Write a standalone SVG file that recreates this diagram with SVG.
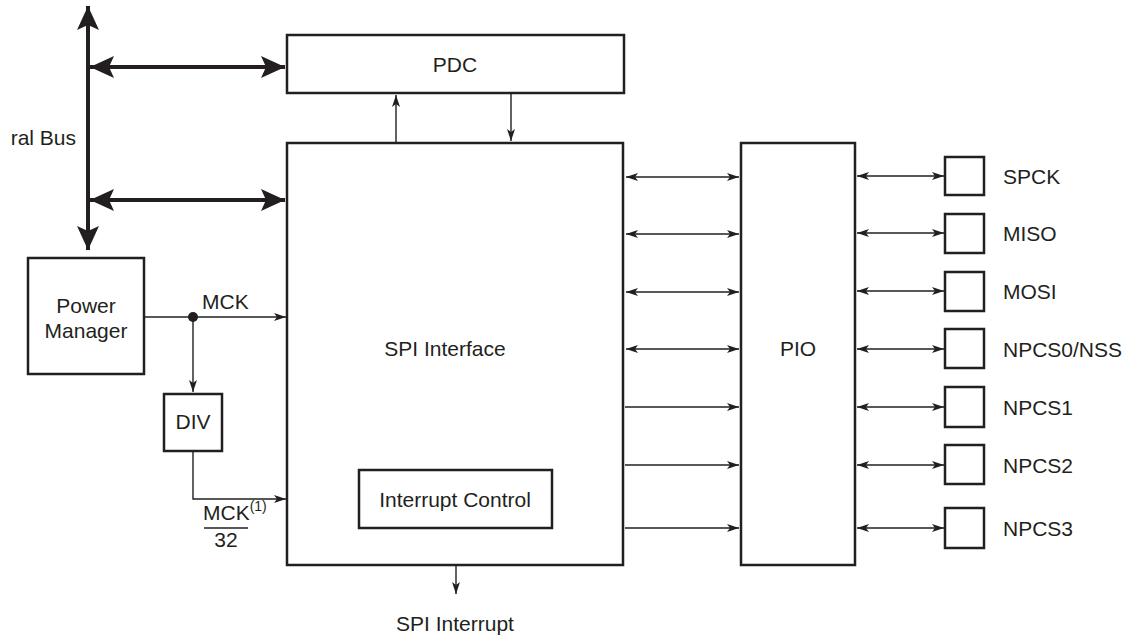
<svg xmlns="http://www.w3.org/2000/svg" width="1142" height="639" viewBox="0 0 1142 639">
<style>
.box{fill:#fff;stroke:#231f20;stroke-width:2.5}
.t{font-family:"Liberation Sans",Arial,sans-serif;font-size:21px;fill:#231f20}
.c{text-anchor:middle}
.thin{stroke:#231f20;stroke-width:1.4;fill:none}
.bus{stroke:#231f20;stroke-width:4;fill:none}
</style>
<defs>
<marker id="a" markerUnits="userSpaceOnUse" viewBox="0 0 12 8" refX="12" refY="4" markerWidth="12" markerHeight="8" orient="auto-start-reverse">
<path d="M0,0 L12,4 L0,8 L3,4 z" fill="#231f20"/>
</marker>
<marker id="b" markerUnits="userSpaceOnUse" viewBox="0 0 24 22" refX="24" refY="11" markerWidth="24" markerHeight="22" orient="auto-start-reverse">
<path d="M0,0 L24,11 L0,22 L5,11 z" fill="#231f20"/>
</marker>
</defs>

<g id="connectors">
<line class="bus" x1="88" y1="6" x2="88" y2="250" marker-start="url(#b)" marker-end="url(#b)"/>
<line class="bus" x1="90" y1="67" x2="285" y2="67" marker-start="url(#b)" marker-end="url(#b)"/>
<line class="bus" x1="90" y1="200" x2="285" y2="200" marker-start="url(#b)" marker-end="url(#b)"/>
<line class="thin" x1="396" y1="143" x2="396" y2="95" marker-end="url(#a)"/>
<line class="thin" x1="511" y1="93" x2="511" y2="141" marker-end="url(#a)"/>
<line class="thin" x1="144" y1="317" x2="286" y2="317" marker-end="url(#a)"/>
<circle cx="193" cy="317" r="5" fill="#231f20"/>
<line class="thin" x1="193" y1="317" x2="193" y2="392" marker-end="url(#a)"/>
<polyline class="thin" points="193,451 193,499 286,499" marker-end="url(#a)"/>
<line class="thin" x1="456" y1="528" x2="456" y2="594" marker-end="url(#a)"/>
<line class="thin" x1="626" y1="177" x2="739" y2="177" marker-start="url(#a)" marker-end="url(#a)"/>
<line class="thin" x1="626" y1="234" x2="739" y2="234" marker-start="url(#a)" marker-end="url(#a)"/>
<line class="thin" x1="626" y1="292" x2="739" y2="292" marker-start="url(#a)" marker-end="url(#a)"/>
<line class="thin" x1="626" y1="349" x2="739" y2="349" marker-start="url(#a)" marker-end="url(#a)"/>
<line class="thin" x1="625" y1="407" x2="739" y2="407" marker-end="url(#a)"/>
<line class="thin" x1="625" y1="465" x2="739" y2="465" marker-end="url(#a)"/>
<line class="thin" x1="625" y1="528" x2="739" y2="528" marker-end="url(#a)"/>
<line class="thin" x1="857" y1="176" x2="944" y2="176" marker-start="url(#a)" marker-end="url(#a)"/>
<line class="thin" x1="857" y1="233" x2="944" y2="233" marker-start="url(#a)" marker-end="url(#a)"/>
<line class="thin" x1="857" y1="291" x2="944" y2="291" marker-start="url(#a)" marker-end="url(#a)"/>
<line class="thin" x1="857" y1="349" x2="944" y2="349" marker-start="url(#a)" marker-end="url(#a)"/>
<line class="thin" x1="857" y1="407" x2="944" y2="407" marker-start="url(#a)" marker-end="url(#a)"/>
<line class="thin" x1="857" y1="465" x2="944" y2="465" marker-start="url(#a)" marker-end="url(#a)"/>
<line class="thin" x1="857" y1="528" x2="944" y2="528" marker-start="url(#a)" marker-end="url(#a)"/>
</g>

<g id="bus-label"><text class="t" x="76" y="145" text-anchor="end">ral Bus</text></g>

<g id="pdc"><rect class="box" x="287" y="35" width="337" height="58"/><text class="t c" x="455" y="72">PDC</text></g>

<g id="spi"><rect class="box" x="287" y="143" width="336" height="422"/><text class="t c" x="445" y="356">SPI Interface</text></g>

<g id="interrupt-control"><rect class="box" x="359" y="470" width="193" height="58"/><text class="t c" x="455" y="507">Interrupt Control</text></g>

<g id="spi-interrupt"><text class="t c" x="455" y="631">SPI Interrupt</text></g>

<g id="power-manager"><rect class="box" x="28" y="258" width="116" height="116"/><text class="t c" x="86" y="313">Power</text><text class="t c" x="86" y="338">Manager</text></g>

<g id="mck"><text class="t" x="202" y="309">MCK</text></g>

<g id="div"><rect class="box" x="164" y="394" width="58" height="57"/><text class="t c" x="193" y="429">DIV</text></g>

<g id="mck-32">
<text class="t" x="203" y="520">MCK<tspan font-size="14" dy="-9">(1)</tspan></text>
<line x1="204" y1="528" x2="248" y2="528" stroke="#231f20" stroke-width="1.4"/>
<text class="t c" x="226" y="547">32</text>
</g>

<g id="pio"><rect class="box" x="741" y="143" width="114" height="422"/><text class="t c" x="798" y="356">PIO</text></g>

<g id="spck"><rect class="box" x="945" y="157" width="39" height="38"/><text class="t" x="1003" y="184">SPCK</text></g>
<g id="miso"><rect class="box" x="945" y="214" width="39" height="39"/><text class="t" x="1003" y="241">MISO</text></g>
<g id="mosi"><rect class="box" x="945" y="272" width="39" height="39"/><text class="t" x="1003" y="299">MOSI</text></g>
<g id="npcs0"><rect class="box" x="945" y="329" width="39" height="39"/><text class="t" x="1003" y="357">NPCS0/NSS</text></g>
<g id="npcs1"><rect class="box" x="945" y="387" width="39" height="40"/><text class="t" x="1003" y="415">NPCS1</text></g>
<g id="npcs2"><rect class="box" x="945" y="445" width="39" height="39"/><text class="t" x="1003" y="473">NPCS2</text></g>
<g id="npcs3"><rect class="box" x="945" y="508" width="39" height="40"/><text class="t" x="1003" y="536">NPCS3</text></g>
</svg>
